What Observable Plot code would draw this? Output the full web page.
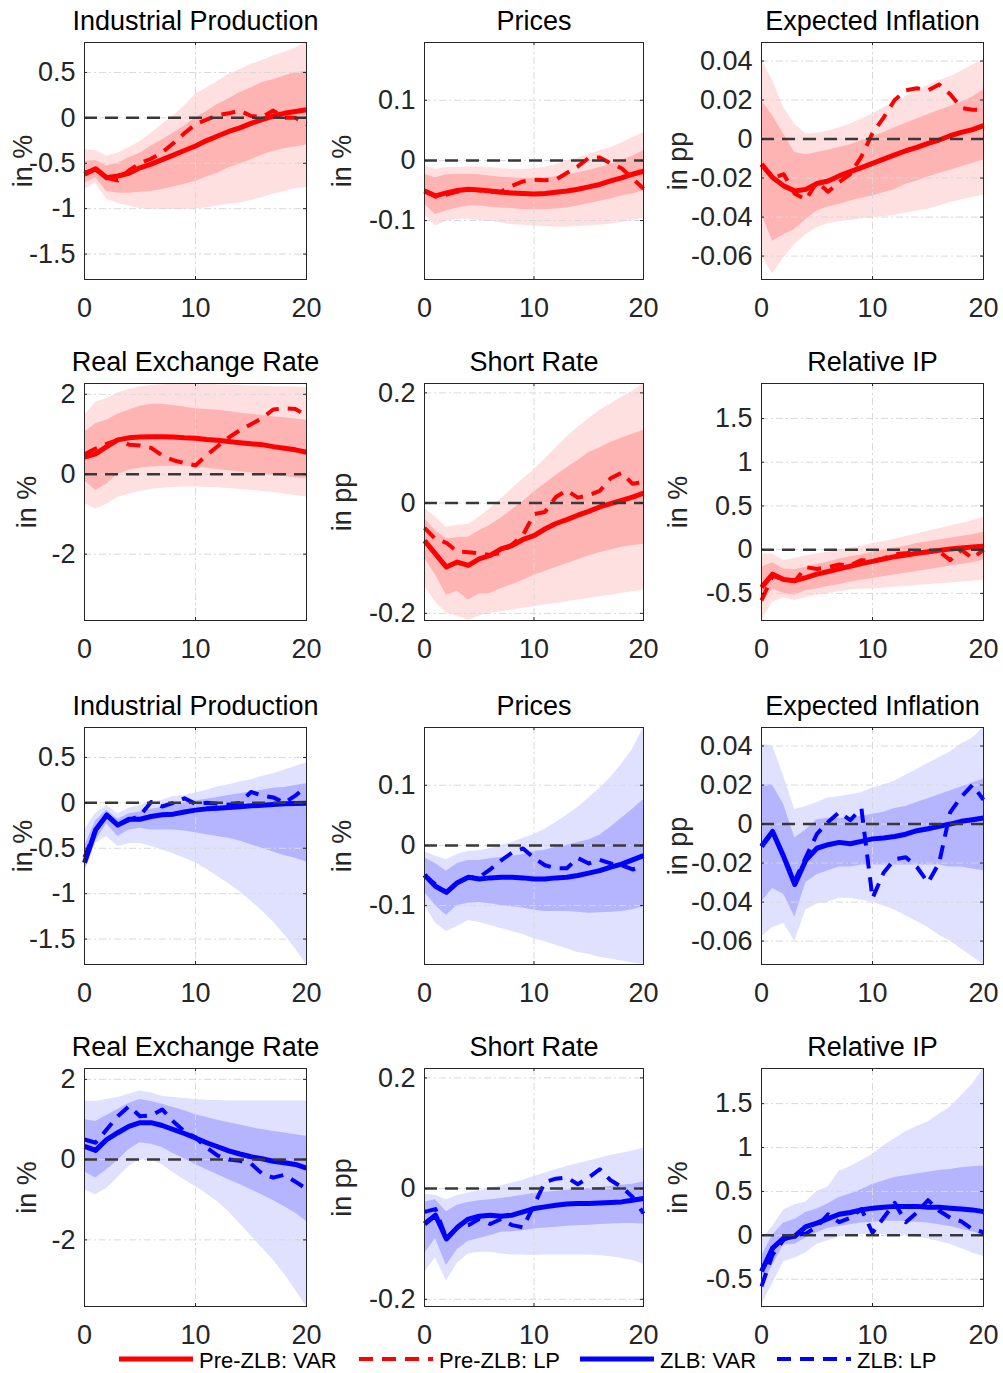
<!DOCTYPE html>
<html>
<head>
<meta charset="utf-8">
<script src="https://cdn.jsdelivr.net/npm/d3@7"></script>
<script src="https://cdn.jsdelivr.net/npm/@observablehq/plot@0.6"></script>
<style>
  body { margin: 0; background: #fff; }
  #chart { position: relative; width: 1003px; height: 1373px; background: #fff;
           font-family: "Liberation Sans", Arial, Helvetica, sans-serif; }
  #chart svg { position: absolute; overflow: visible; background: transparent; }
</style>
</head>
<body>
<div id="chart"></div>
<script>
// Impulse-response horizons (months)
const horizons = [0,1,2,3,4,5,6,7,8,9,10,11,12,13,14,15,16,17,18,19,20];

// ---------- Pre-ZLB sample ----------
// Industrial Production
const preIP_var  = [-0.62,-0.56,-0.66,-0.64,-0.61,-0.55,-0.51,-0.46,-0.41,-0.36,-0.31,-0.25,-0.20,-0.15,-0.11,-0.06,-0.02,0.02,0.05,0.07,0.09];
const preIP_lp   = [-0.60,-0.57,-0.66,-0.69,-0.58,-0.50,-0.45,-0.38,-0.28,-0.17,-0.07,-0.02,0.03,0.05,0.08,0.02,0.01,0.08,0.00,0.00,-0.07];
const preIP_lo68 = [-0.72,-0.66,-0.81,-0.83,-0.83,-0.82,-0.81,-0.79,-0.76,-0.73,-0.70,-0.65,-0.61,-0.55,-0.51,-0.46,-0.41,-0.37,-0.34,-0.32,-0.30];
const preIP_hi68 = [-0.48,-0.47,-0.53,-0.50,-0.44,-0.39,-0.31,-0.24,-0.17,-0.09,0.00,0.07,0.15,0.21,0.28,0.33,0.39,0.42,0.46,0.50,0.51];
const preIP_lo90 = [-0.79,-0.72,-0.90,-0.94,-0.97,-1.00,-1.01,-1.01,-1.01,-1.01,-1.00,-0.99,-0.97,-0.95,-0.94,-0.91,-0.88,-0.84,-0.81,-0.78,-0.77];
const preIP_hi90 = [-0.35,-0.36,-0.42,-0.39,-0.33,-0.26,-0.17,-0.07,0.02,0.13,0.26,0.33,0.40,0.48,0.53,0.59,0.63,0.68,0.72,0.77,0.83];

// Prices
const prePR_var  = [-0.051,-0.059,-0.054,-0.050,-0.048,-0.049,-0.051,-0.053,-0.054,-0.055,-0.056,-0.055,-0.053,-0.051,-0.048,-0.044,-0.040,-0.034,-0.029,-0.023,-0.018];
const prePR_lp   = [-0.050,-0.060,-0.057,-0.052,-0.048,-0.050,-0.052,-0.052,-0.042,-0.035,-0.032,-0.033,-0.032,-0.021,-0.010,0.004,0.005,-0.005,-0.013,-0.030,-0.047];
const prePR_lo68 = [-0.073,-0.090,-0.084,-0.079,-0.076,-0.076,-0.078,-0.079,-0.080,-0.082,-0.082,-0.082,-0.081,-0.079,-0.076,-0.072,-0.068,-0.064,-0.059,-0.056,-0.051];
const prePR_hi68 = [-0.023,-0.029,-0.024,-0.023,-0.023,-0.024,-0.026,-0.028,-0.029,-0.030,-0.030,-0.029,-0.027,-0.024,-0.021,-0.017,-0.012,-0.007,0.000,0.007,0.016];
const prePR_lo90 = [-0.090,-0.109,-0.101,-0.098,-0.098,-0.100,-0.101,-0.104,-0.107,-0.108,-0.109,-0.110,-0.111,-0.111,-0.110,-0.109,-0.108,-0.106,-0.103,-0.100,-0.096];
const prePR_hi90 = [-0.009,-0.015,-0.012,-0.012,-0.011,-0.011,-0.012,-0.014,-0.015,-0.015,-0.014,-0.012,-0.007,-0.001,0.004,0.010,0.016,0.021,0.029,0.038,0.046];

// Expected Inflation
const preEI_var  = [-0.0129,-0.0197,-0.0240,-0.0266,-0.0258,-0.0228,-0.0215,-0.0189,-0.0167,-0.0146,-0.0125,-0.0103,-0.0081,-0.0060,-0.0043,-0.0022,-0.0005,0.0017,0.0034,0.0048,0.0069];
const preEI_lp   = [-0.013,-0.020,-0.018,-0.028,-0.031,-0.022,-0.027,-0.022,-0.018,-0.009,0.003,0.011,0.020,0.025,0.026,0.025,0.028,0.023,0.016,0.015,0.015];
const preEI_lo68 = [-0.0386,-0.0524,-0.0490,-0.0464,-0.0412,-0.0369,-0.0348,-0.0335,-0.0318,-0.0304,-0.0292,-0.0275,-0.0258,-0.0232,-0.0215,-0.0194,-0.0177,-0.0160,-0.0142,-0.0125,-0.0108];
const preEI_hi68 = [0.0197,0.0120,0.0026,-0.0069,-0.0081,-0.0069,-0.0057,-0.0043,-0.0029,-0.0009,0.0012,0.0034,0.0057,0.0081,0.0103,0.0124,0.0146,0.0167,0.0189,0.0215,0.0252];
const preEI_lo90 = [-0.0600,-0.0690,-0.0610,-0.0540,-0.0490,-0.0455,-0.0434,-0.0424,-0.0417,-0.0410,-0.0403,-0.0398,-0.0391,-0.0381,-0.0369,-0.0360,-0.0343,-0.0326,-0.0312,-0.0300,-0.0287];
const preEI_hi90 = [0.0410,0.0300,0.0160,0.0077,0.0026,0.0030,0.0040,0.0057,0.0077,0.0103,0.0129,0.0160,0.0189,0.0218,0.0249,0.0275,0.0300,0.0320,0.0348,0.0378,0.0407];

// Real Exchange Rate
const preRX_var  = [0.43,0.51,0.69,0.86,0.91,0.93,0.94,0.94,0.93,0.91,0.90,0.87,0.85,0.82,0.79,0.76,0.74,0.69,0.65,0.61,0.55];
const preRX_lp   = [0.50,0.64,0.76,0.86,0.74,0.72,0.66,0.47,0.35,0.28,0.22,0.48,0.70,0.92,1.10,1.25,1.40,1.62,1.65,1.63,1.47];
const preRX_lo68 = [-0.16,-0.41,-0.25,0.00,0.10,0.15,0.18,0.20,0.20,0.20,0.18,0.15,0.12,0.09,0.06,0.03,0.00,-0.03,-0.06,-0.09,-0.12];
const preRX_hi68 = [1.05,1.26,1.35,1.50,1.60,1.70,1.75,1.75,1.72,1.68,1.64,1.62,1.60,1.57,1.53,1.50,1.47,1.44,1.41,1.38,1.35];
const preRX_lo90 = [-0.74,-0.87,-0.75,-0.58,-0.50,-0.43,-0.38,-0.35,-0.33,-0.32,-0.32,-0.33,-0.34,-0.36,-0.38,-0.40,-0.43,-0.46,-0.50,-0.53,-0.57];
const preRX_hi90 = [1.47,1.80,1.89,2.03,2.12,2.18,2.22,2.24,2.26,2.27,2.26,2.25,2.24,2.23,2.22,2.21,2.20,2.19,2.18,2.18,2.17];

// Short Rate
const preSR_var  = [-0.068,-0.092,-0.116,-0.107,-0.113,-0.101,-0.095,-0.083,-0.077,-0.066,-0.059,-0.047,-0.037,-0.030,-0.022,-0.015,-0.007,-0.001,0.005,0.011,0.018];
const preSR_lp   = [-0.045,-0.065,-0.072,-0.088,-0.089,-0.091,-0.094,-0.090,-0.075,-0.058,-0.020,-0.016,0.011,0.023,0.010,0.014,0.022,0.045,0.055,0.035,0.038];
const preSR_lo68 = [-0.100,-0.130,-0.167,-0.160,-0.176,-0.165,-0.164,-0.155,-0.148,-0.140,-0.131,-0.124,-0.117,-0.110,-0.103,-0.096,-0.090,-0.085,-0.080,-0.077,-0.075];
const preSR_hi68 = [-0.028,-0.050,-0.065,-0.063,-0.062,-0.050,-0.040,-0.027,-0.012,0.003,0.020,0.035,0.050,0.064,0.077,0.092,0.100,0.110,0.118,0.125,0.132];
const preSR_lo90 = [-0.150,-0.180,-0.200,-0.205,-0.213,-0.205,-0.200,-0.197,-0.194,-0.191,-0.188,-0.185,-0.182,-0.179,-0.176,-0.173,-0.170,-0.167,-0.164,-0.161,-0.158];
const preSR_hi90 = [-0.010,-0.025,-0.044,-0.040,-0.039,-0.025,-0.010,0.008,0.026,0.044,0.060,0.080,0.100,0.120,0.137,0.153,0.168,0.180,0.192,0.203,0.217];

// Relative IP
const preRI_var  = [-0.43,-0.28,-0.34,-0.355,-0.32,-0.28,-0.25,-0.22,-0.19,-0.16,-0.134,-0.107,-0.08,-0.06,-0.04,-0.023,-0.008,0.008,0.02,0.03,0.04];
const preRI_lp   = [-0.58,-0.30,-0.34,-0.36,-0.20,-0.22,-0.20,-0.17,-0.18,-0.12,-0.13,-0.10,-0.05,-0.04,-0.03,-0.03,-0.02,-0.12,0.00,-0.10,0.00];
const preRI_lo68 = [-0.62,-0.45,-0.50,-0.52,-0.47,-0.45,-0.42,-0.40,-0.37,-0.35,-0.33,-0.31,-0.29,-0.27,-0.25,-0.23,-0.21,-0.19,-0.17,-0.15,-0.12];
const preRI_hi68 = [-0.20,-0.15,-0.22,-0.23,-0.20,-0.17,-0.14,-0.11,-0.08,-0.06,-0.03,0.00,0.02,0.04,0.07,0.09,0.11,0.13,0.15,0.17,0.20];
const preRI_lo90 = [-0.81,-0.60,-0.55,-0.58,-0.55,-0.52,-0.50,-0.48,-0.46,-0.45,-0.45,-0.44,-0.43,-0.42,-0.41,-0.40,-0.39,-0.38,-0.37,-0.36,-0.35];
const preRI_hi90 = [-0.05,-0.05,-0.12,-0.10,-0.07,-0.05,-0.03,-0.01,0.02,0.04,0.07,0.09,0.12,0.15,0.18,0.21,0.24,0.27,0.30,0.33,0.37];

// ---------- ZLB sample ----------
const zlbIP_var  = [-0.66,-0.30,-0.135,-0.245,-0.18,-0.18,-0.15,-0.13,-0.124,-0.10,-0.08,-0.066,-0.06,-0.05,-0.044,-0.033,-0.026,-0.018,-0.011,-0.007,-0.004];
const zlbIP_lp   = [-0.60,-0.30,-0.13,-0.24,-0.19,-0.14,0.01,-0.04,0.00,0.05,-0.01,0.00,-0.01,-0.02,0.00,0.12,0.08,0.06,0.00,0.08,0.18];
const zlbIP_lo68 = [-0.75,-0.42,-0.23,-0.37,-0.30,-0.28,-0.30,-0.30,-0.30,-0.31,-0.33,-0.35,-0.37,-0.39,-0.42,-0.46,-0.50,-0.54,-0.58,-0.61,-0.65];
const zlbIP_hi68 = [-0.48,-0.20,-0.08,-0.18,-0.12,-0.10,-0.07,-0.05,-0.02,0.00,0.02,0.04,0.06,0.08,0.10,0.12,0.14,0.16,0.17,0.19,0.21];
const zlbIP_lo90 = [-0.77,-0.445,-0.37,-0.48,-0.45,-0.445,-0.48,-0.52,-0.56,-0.61,-0.66,-0.73,-0.81,-0.89,-0.98,-1.08,-1.19,-1.31,-1.45,-1.61,-1.78];
const zlbIP_hi90 = [-0.30,-0.12,-0.03,-0.12,-0.06,-0.03,0.01,0.03,0.07,0.08,0.11,0.14,0.175,0.20,0.23,0.255,0.29,0.32,0.36,0.40,0.44];

const zlbPR_var  = [-0.049,-0.068,-0.078,-0.062,-0.053,-0.056,-0.054,-0.053,-0.053,-0.054,-0.056,-0.056,-0.054,-0.053,-0.050,-0.046,-0.042,-0.036,-0.031,-0.024,-0.017];
const zlbPR_lp   = [-0.050,-0.065,-0.078,-0.062,-0.053,-0.053,-0.040,-0.025,-0.012,-0.005,-0.021,-0.033,-0.038,-0.038,-0.021,-0.030,-0.024,-0.030,-0.033,-0.040,-0.035];
const zlbPR_lo68 = [-0.078,-0.100,-0.116,-0.100,-0.096,-0.095,-0.097,-0.100,-0.102,-0.104,-0.108,-0.110,-0.110,-0.110,-0.111,-0.113,-0.112,-0.111,-0.110,-0.107,-0.102];
const zlbPR_hi68 = [-0.021,-0.030,-0.043,-0.030,-0.025,-0.025,-0.022,-0.020,-0.018,-0.015,-0.010,-0.008,-0.003,0.000,0.005,0.009,0.017,0.030,0.045,0.060,0.076];
const zlbPR_lo90 = [-0.099,-0.129,-0.143,-0.135,-0.125,-0.128,-0.133,-0.138,-0.143,-0.148,-0.155,-0.160,-0.166,-0.172,-0.178,-0.181,-0.186,-0.189,-0.192,-0.195,-0.198];
const zlbPR_hi90 = [-0.010,-0.018,-0.024,-0.015,-0.010,-0.009,-0.005,0.000,0.005,0.012,0.018,0.027,0.038,0.050,0.063,0.079,0.095,0.113,0.135,0.160,0.196];

const zlbEI_var  = [-0.0115,-0.0038,-0.0167,-0.0310,-0.0184,-0.0124,-0.0106,-0.0094,-0.0101,-0.0089,-0.0076,-0.0072,-0.0064,-0.0052,-0.0034,-0.0024,-0.0012,0.0000,0.0014,0.0022,0.0031];
const zlbEI_lp   = [-0.011,-0.004,-0.017,-0.029,-0.017,-0.005,0.001,0.006,0.002,0.008,-0.038,-0.025,-0.018,-0.017,-0.022,-0.030,-0.020,0.006,0.014,0.020,0.0125];
const zlbEI_lo68 = [-0.040,-0.033,-0.036,-0.0476,-0.030,-0.026,-0.024,-0.022,-0.022,-0.021,-0.021,-0.021,-0.021,-0.021,-0.021,-0.021,-0.021,-0.022,-0.022,-0.023,-0.024];
const zlbEI_hi68 = [0.020,0.020,0.010,-0.0072,-0.003,0.0022,0.003,0.003,0.003,0.004,0.005,0.006,0.008,0.009,0.011,0.013,0.015,0.017,0.019,0.021,0.023];
const zlbEI_lo90 = [-0.058,-0.053,-0.051,-0.060,-0.044,-0.041,-0.040,-0.038,-0.038,-0.039,-0.040,-0.042,-0.044,-0.047,-0.050,-0.053,-0.057,-0.060,-0.064,-0.068,-0.072];
const zlbEI_hi90 = [0.041,0.040,0.0245,0.0074,0.009,0.011,0.0134,0.014,0.015,0.016,0.0185,0.020,0.022,0.025,0.028,0.031,0.034,0.037,0.041,0.044,0.0495];

const zlbRX_var  = [0.33,0.23,0.50,0.67,0.83,0.92,0.92,0.85,0.75,0.65,0.54,0.42,0.32,0.22,0.14,0.07,0.02,-0.04,-0.08,-0.12,-0.21];
const zlbRX_lp   = [0.50,0.42,0.75,1.08,1.33,1.08,1.10,1.25,0.95,0.70,0.55,0.30,0.10,0.00,-0.03,-0.10,-0.35,-0.45,-0.38,-0.55,-0.73];
const zlbRX_lo68 = [-0.30,-0.46,-0.25,-0.02,0.25,0.42,0.38,0.30,0.15,0.02,-0.12,-0.25,-0.38,-0.50,-0.62,-0.75,-0.88,-1.02,-1.17,-1.33,-1.54];
const zlbRX_hi68 = [1.00,0.95,1.10,1.25,1.40,1.50,1.45,1.38,1.30,1.22,1.12,1.05,0.98,0.92,0.86,0.80,0.75,0.70,0.66,0.62,0.58];
const zlbRX_lo90 = [-0.75,-0.875,-0.72,-0.45,-0.17,0.00,-0.01,-0.13,-0.33,-0.50,-0.67,-0.85,-1.05,-1.30,-1.60,-1.90,-2.20,-2.50,-2.85,-3.25,-3.66];
const zlbRX_hi90 = [1.46,1.45,1.50,1.55,1.63,1.71,1.66,1.58,1.55,1.52,1.50,1.48,1.47,1.46,1.46,1.46,1.46,1.46,1.46,1.46,1.46];

const zlbSR_var  = [-0.064,-0.048,-0.091,-0.070,-0.055,-0.050,-0.048,-0.050,-0.048,-0.042,-0.036,-0.033,-0.030,-0.028,-0.027,-0.027,-0.026,-0.025,-0.024,-0.021,-0.018];
const zlbSR_lp   = [-0.042,-0.037,-0.090,-0.070,-0.066,-0.055,-0.064,-0.055,-0.066,-0.070,-0.030,0.012,0.018,0.020,0.008,0.020,0.035,0.015,0.003,-0.015,-0.045];
const zlbSR_lo68 = [-0.118,-0.090,-0.139,-0.110,-0.095,-0.090,-0.085,-0.079,-0.078,-0.076,-0.073,-0.071,-0.070,-0.068,-0.067,-0.066,-0.065,-0.064,-0.063,-0.063,-0.064];
const zlbSR_hi68 = [-0.024,-0.020,-0.042,-0.030,-0.025,-0.022,-0.020,-0.018,-0.015,-0.012,-0.009,-0.007,-0.005,-0.003,-0.001,0.000,0.002,0.004,0.006,0.008,0.012];
const zlbSR_lo90 = [-0.152,-0.125,-0.167,-0.135,-0.118,-0.115,-0.115,-0.118,-0.120,-0.120,-0.121,-0.120,-0.120,-0.120,-0.120,-0.120,-0.121,-0.123,-0.126,-0.130,-0.136];
const zlbSR_hi90 = [-0.010,-0.012,-0.020,-0.013,-0.008,-0.004,0.000,0.005,0.010,0.015,0.022,0.028,0.034,0.040,0.045,0.050,0.055,0.060,0.064,0.068,0.073];

const zlbRI_var  = [-0.41,-0.145,-0.03,-0.01,0.10,0.14,0.19,0.24,0.26,0.29,0.31,0.32,0.33,0.33,0.33,0.32,0.32,0.31,0.30,0.29,0.27];
const zlbRI_lp   = [-0.58,-0.22,-0.05,0.00,0.02,0.10,0.24,0.15,0.20,0.30,0.03,0.20,0.37,0.15,0.26,0.40,0.28,0.20,0.16,0.07,0.035];
const zlbRI_lo68 = [-0.60,-0.34,-0.11,-0.10,-0.03,0.03,0.08,0.10,0.12,0.14,0.15,0.16,0.16,0.16,0.15,0.14,0.12,0.10,0.07,0.04,0.00];
const zlbRI_hi68 = [-0.24,0.00,0.14,0.18,0.26,0.30,0.36,0.43,0.47,0.52,0.58,0.62,0.66,0.68,0.70,0.72,0.74,0.75,0.77,0.78,0.79];
const zlbRI_lo90 = [-0.79,-0.55,-0.30,-0.26,-0.20,-0.10,-0.06,-0.02,0.00,0.01,0.01,0.01,0.005,0.00,-0.02,-0.04,-0.07,-0.10,-0.15,-0.20,-0.24];
const zlbRI_hi90 = [-0.05,0.10,0.29,0.35,0.38,0.50,0.55,0.73,0.78,0.85,0.92,1.02,1.10,1.18,1.24,1.29,1.38,1.46,1.59,1.72,1.90];

// Axis ticks
const xTicks      = [0, 10, 20];
const ipTicks     = [-1.5, -1, -0.5, 0, 0.5];
const pricesTicks = [-0.1, 0, 0.1];
const eiTicks     = [-0.06, -0.04, -0.02, 0, 0.02, 0.04];
const rxTicks     = [-2, 0, 2];
const srTicks     = [-0.2, 0, 0.2];
const riTicks     = [-0.5, 0, 0.5, 1, 1.5];

// Panel titles, units and series names
const titles = ["Industrial Production", "Prices", "Expected Inflation", "Real Exchange Rate", "Short Rate", "Relative IP"];
const units  = ["in %", "in %", "in pp", "in %", "in pp", "in %"];
const legendLabels = ["Pre-ZLB: VAR", "Pre-ZLB: LP", "ZLB: VAR", "ZLB: LP"];

const pack = (v, lp, lo68, hi68, lo90, hi90) => ({v, lp, lo68, hi68, lo90, hi90});
const variables = [
  {ticks: ipTicks,     labelOffset: 61, pre: pack(preIP_var, preIP_lp, preIP_lo68, preIP_hi68, preIP_lo90, preIP_hi90), zlb: pack(zlbIP_var, zlbIP_lp, zlbIP_lo68, zlbIP_hi68, zlbIP_lo90, zlbIP_hi90)},
  {ticks: pricesTicks, labelOffset: 82, pre: pack(prePR_var, prePR_lp, prePR_lo68, prePR_hi68, prePR_lo90, prePR_hi90), zlb: pack(zlbPR_var, zlbPR_lp, zlbPR_lo68, zlbPR_hi68, zlbPR_lo90, zlbPR_hi90)},
  {ticks: eiTicks,     labelOffset: 83, pre: pack(preEI_var, preEI_lp, preEI_lo68, preEI_hi68, preEI_lo90, preEI_hi90), zlb: pack(zlbEI_var, zlbEI_lp, zlbEI_lo68, zlbEI_hi68, zlbEI_lo90, zlbEI_hi90)},
  {ticks: rxTicks,     labelOffset: 57, pre: pack(preRX_var, preRX_lp, preRX_lo68, preRX_hi68, preRX_lo90, preRX_hi90), zlb: pack(zlbRX_var, zlbRX_lp, zlbRX_lo68, zlbRX_hi68, zlbRX_lo90, zlbRX_hi90)},
  {ticks: srTicks,     labelOffset: 82, pre: pack(preSR_var, preSR_lp, preSR_lo68, preSR_hi68, preSR_lo90, preSR_hi90), zlb: pack(zlbSR_var, zlbSR_lp, zlbSR_lo68, zlbSR_hi68, zlbSR_lo90, zlbSR_hi90)},
  {ticks: riTicks,     labelOffset: 83, pre: pack(preRI_var, preRI_lp, preRI_lo68, preRI_hi68, preRI_lo90, preRI_hi90), zlb: pack(zlbRI_var, zlbRI_lp, zlbRI_lo68, zlbRI_hi68, zlbRI_lo90, zlbRI_hi90)}
];

// Sample styling
const samples = {
  pre: {line: "#ff0000", band90: "#ffe0e0", band68: "#ffb4b4"},
  zlb: {line: "#0000ff", band90: "#e0e0ff", band68: "#b4b4ff"}
};

// Grid layout of the 4 x 3 panels
const colLeft  = [84, 424, 761];
const colRight = [306, 643, 983];
const rowTop    = [42, 383, 727, 1068];
const rowBottom = [279, 620, 964, 1306];
const colMargin = [84, 94, 99];
const FONT = "'Liberation Sans', Arial, Helvetica, sans-serif";
const AXIS = "#262626";
const lpDash = "14 9";
const zeroDash = "13 8";

const chart = document.getElementById("chart");
const fmt = d => String(d);

function drawPanel(vi, sampleKey, row, col) {
  const variable = variables[vi];
  const s = variable[sampleKey];
  const style = samples[sampleKey];
  const rows = horizons.map((h, i) => ({
    h, v: s.v[i], lp: s.lp[i], lo68: s.lo68[i], hi68: s.hi68[i], lo90: s.lo90[i], hi90: s.hi90[i]
  }));
  // Both samples of a variable share the same y range (outer bands)
  const domain = d3.extent([
    ...variable.pre.lo90, ...variable.pre.hi90, ...variable.zlb.lo90, ...variable.zlb.hi90
  ]);
  const plotW = colRight[col] - colLeft[col];
  const plotH = rowBottom[row] - rowTop[row];
  const mL = colMargin[col], mR = 22, mT = 42, mB = 48;
  const tickLen = 3;

  const svg = Plot.plot({
    width: mL + plotW + mR,
    height: mT + plotH + mB,
    marginLeft: mL, marginRight: mR, marginTop: mT, marginBottom: mB,
    x: {domain: [0, 20]},
    y: {domain},
    style: {fontFamily: FONT, fontSize: "27px", color: AXIS, background: "transparent", overflow: "visible"},
    marks: [
      Plot.areaY(rows, {x: "h", y1: "lo90", y2: "hi90", fill: style.band90}),
      Plot.areaY(rows, {x: "h", y1: "lo68", y2: "hi68", fill: style.band68}),
      Plot.gridY(variable.ticks, {stroke: "#d9d9d9", strokeOpacity: 1, strokeWidth: 1, strokeDasharray: "7 3 2 3"}),
      Plot.gridX([10], {stroke: "#d9d9d9", strokeOpacity: 1, strokeWidth: 1, strokeDasharray: "7 3 2 3"}),
      Plot.line(rows, {x: "h", y: "lp", stroke: style.line, strokeWidth: 4, strokeDasharray: lpDash, strokeLinecap: "butt"}),
      Plot.line(rows, {x: "h", y: "v", stroke: style.line, strokeWidth: 5, strokeLinecap: "butt"}),
      Plot.ruleY([0], {stroke: "#383838", strokeWidth: 2.5, strokeDasharray: zeroDash}),
      Plot.frame({stroke: AXIS, strokeWidth: 1}),
      // inward tick marks on all four sides
      Plot.ruleY(variable.ticks, {stroke: AXIS, insetRight: plotW - tickLen}),
      Plot.ruleY(variable.ticks, {stroke: AXIS, insetLeft: plotW - tickLen}),
      Plot.ruleX([10], {stroke: AXIS, insetTop: plotH - tickLen}),
      Plot.ruleX([10], {stroke: AXIS, insetBottom: plotH - tickLen}),
      Plot.axisY(variable.ticks, {tickSize: 0, tickPadding: 9, tickFormat: fmt, label: null, fill: AXIS}),
      Plot.axisX(xTicks, {tickSize: 0, tickPadding: 18, tickFormat: fmt, label: null, fill: AXIS}),
      Plot.text([titles[vi]], {frameAnchor: "top", dy: -13, lineAnchor: "bottom", fill: "#000", fontSize: 27}),
      Plot.text([units[vi]], {frameAnchor: "left", dx: -variable.labelOffset, rotate: -90,
                              textAnchor: "middle", lineAnchor: "middle", fill: AXIS, fontSize: 27})
    ]
  });
  svg.style.left = (colLeft[col] - mL) + "px";
  svg.style.top = (rowTop[row] - mT) + "px";
  chart.appendChild(svg);
}

// Rows 1-2: pre-ZLB sample; rows 3-4: ZLB sample
for (let vi = 0; vi < 6; vi++) {
  const r = Math.floor(vi / 3), c = vi % 3;
  drawPanel(vi, "pre", r, c);
  drawPanel(vi, "zlb", r + 2, c);
}

// Legend along the bottom edge
const legendItems = [
  {label: legendLabels[0], color: samples.pre.line, dash: null, x: 119},
  {label: legendLabels[1], color: samples.pre.line, dash: lpDash, x: 359},
  {label: legendLabels[2], color: samples.zlb.line, dash: null, x: 580},
  {label: legendLabels[3], color: samples.zlb.line, dash: lpDash, x: 777}
];
const legend = d3.create("svg")
  .attr("width", 1003).attr("height", 26)
  .style("left", "0px").style("top", "1347px")
  .style("font-family", FONT).style("font-size", "22px");
for (const it of legendItems) {
  legend.append("line")
    .attr("x1", it.x).attr("x2", it.x + 74).attr("y1", 12).attr("y2", 12)
    .attr("stroke", it.color).attr("stroke-width", it.dash ? 4 : 5)
    .attr("stroke-dasharray", it.dash);
  legend.append("text")
    .attr("x", it.x + 80).attr("y", 13).attr("dy", "0.35em")
    .attr("fill", "#000").text(it.label);
}
chart.appendChild(legend.node());
</script>
</body>
</html>
